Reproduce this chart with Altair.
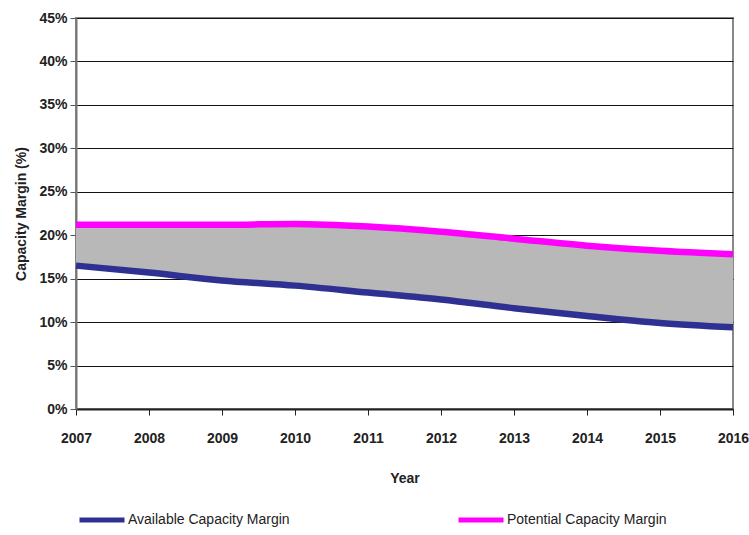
import altair as alt
import pandas as pd

years = [2007, 2008, 2009, 2010, 2011, 2012, 2013, 2014, 2015, 2016]
available = [16.5, 15.7, 14.8, 14.2, 13.4, 12.6, 11.6, 10.7, 9.9, 9.4]
potential = [21.2, 21.2, 21.2, 21.3, 21.0, 20.4, 19.6, 18.8, 18.2, 17.8]
series_names = ["Available Capacity Margin", "Potential Capacity Margin"]
series_colors = ["#2e3192", "#ff00ff"]

wide = pd.DataFrame({"Year": years, "Available": available, "Potential": potential})
long = pd.concat([
    pd.DataFrame({"Year": years, "Value": available, "Series": series_names[0]}),
    pd.DataFrame({"Year": years, "Value": potential, "Series": series_names[1]}),
])

FONT = "Liberation Sans"

x = alt.X("Year:Q", scale=alt.Scale(domain=[2007, 2016], nice=False, zero=False),
          axis=alt.Axis(values=years, format="d", title="Year", grid=False,
                        labelFont=FONT, labelFontSize=14, labelFontWeight="bold", labelColor="#222",
                        titleFont=FONT, titleFontSize=14, titleFontWeight="bold", titleColor="#222",
                        titlePadding=26, labelPadding=16, tickSize=6, tickColor="#222",
                        domainColor="#222", domainWidth=2, labelFlush=False))

band = alt.Chart(wide).mark_area(color="#b8b8b8", interpolate="monotone").encode(
    x=x,
    y=alt.Y("Available:Q"),
    y2="Potential:Q",
)

lines = alt.Chart(long).mark_line(strokeWidth=6.5, interpolate="monotone").encode(
    x=x,
    y=alt.Y("Value:Q", scale=alt.Scale(domain=[0, 45], nice=False),
            axis=alt.Axis(values=[0, 5, 10, 15, 20, 25, 30, 35, 40, 45],
                          labelExpr="datum.value + '%'",
                          title="Capacity Margin (%)", grid=True, gridColor="#111", gridWidth=1,
                          labelFont=FONT, labelFontSize=14, labelFontWeight="bold", labelColor="#222",
                          titleFont=FONT, titleFontSize=14, titleFontWeight="bold", titleColor="#222",
                          titlePadding=10, labelPadding=3, tickSize=6, tickColor="#555",
                          domainColor="#777", domainWidth=2)),
    color=alt.Color("Series:N", scale=alt.Scale(domain=series_names, range=series_colors),
                    legend=alt.Legend(title=None, orient="none", legendX=1, legendY=477,
                                      direction="horizontal", columns=2, columnPadding=158,
                                      symbolType="stroke", symbolSize=2025, symbolStrokeWidth=5,
                                      labelFont=FONT, labelFontSize=14, labelColor="#222",
                                      labelOffset=1, labelLimit=300)),
)

chart = alt.layer(band, lines).properties(
    width=657, height=391,
    autosize=alt.AutoSizeParams(type="none"),
    padding={"left": 76, "top": 18, "right": 16, "bottom": 126},
    background="white",
).configure_view(stroke="#888", strokeWidth=2)

chart.save("out.html", embed_options={"renderer": "svg", "actions": False})
